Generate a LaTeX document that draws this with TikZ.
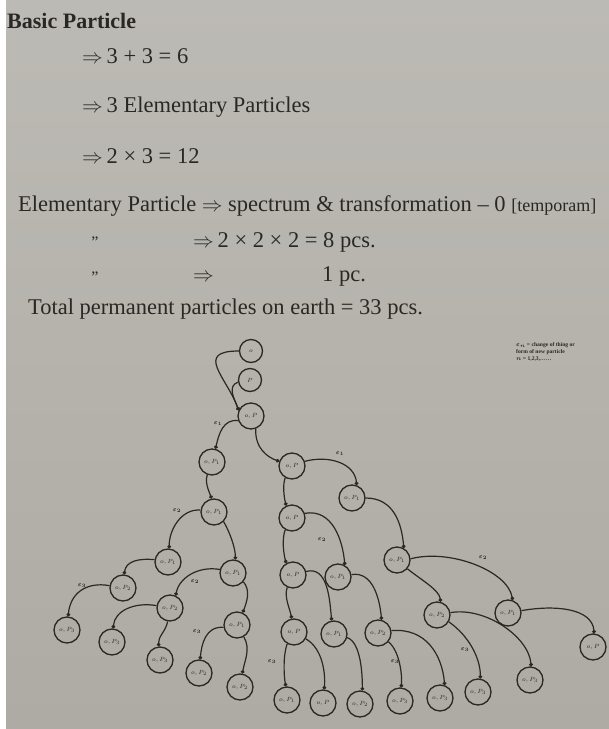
\documentclass[tikz,border=0pt]{standalone}
\usepackage{fontspec}
\setmainfont{Liberation Serif}
\usetikzlibrary{arrows.meta}
\definecolor{ink}{RGB}{42,40,37}
\definecolor{papertop}{RGB}{188,186,180}
\definecolor{paperbot}{RGB}{174,171,164}
\tikzset{
  pnode/.style={circle,draw=ink,line width=1.3pt,minimum size=26pt,inner sep=0pt,text=ink,font=\fontsize{6}{6}\selectfont},
  tnode/.style={pnode,minimum size=23pt},
  link/.style={draw=ink,line width=1.2pt,-{Circle[length=3.6pt]}},
  elabel/.style={text=ink,inner sep=0pt,font=\boldmath\fontsize{6.5}{6.5}\selectfont},
  txt/.style={text=ink,inner sep=0pt,anchor=base west,font=\fontsize{22.5}{26}\selectfont}
}
\begin{document}
\begin{tikzpicture}
\useasboundingbox (0,0) rectangle (609pt,-729pt);
\shade[top color=papertop,bottom color=paperbot] (0,0) rectangle (609pt,-729pt);
\fill[white] (0,0) rectangle (6pt,-729pt);
\begin{scope}[x=1pt,y=1pt]
% ---------- text ----------
\node[txt,font=\bfseries\fontsize{22}{26}\selectfont] (t0) at (7,-28) {Basic Particle};
\node[txt] (t1) at (82,-63) {$\Rightarrow$\,3 + 3 = 6};
\node[txt] (t2) at (82,-112) {$\Rightarrow$\,3 Elementary Particles};
\node[txt] (t3) at (82,-163) {$\Rightarrow$\,2 × 3 = 12};
\node[txt] (t4) at (18,-211) {Elementary Particle $\Rightarrow$ spectrum \& transformation – 0 {\fontsize{18}{18}\selectfont[temporam]}};
\node[text=ink,font=\fontsize{16}{16}\selectfont,inner sep=0pt] (d1) at (95,-242) {”};
\node[txt] (t5) at (193,-247) {$\Rightarrow$\,2 × 2 × 2 = 8 pcs.};
\node[text=ink,font=\fontsize{16}{16}\selectfont,inner sep=0pt] (d2) at (95,-277) {”};
\node[txt] (t6) at (193,-281) {$\Rightarrow$};
\node[txt] (t7) at (322,-281) {1 pc.};
\node[txt] (t8) at (28,-314) {Total permanent particles on earth = 33 pcs.};
\node[text=ink,inner sep=0pt,anchor=north west,align=left,font=\boldmath\bfseries\fontsize{5.6}{7}\selectfont] (leg) at (516,-342)
  {$\varepsilon_n$ = change of thing or\\ form of new particle\\ $n$ = 1,2,3,\ldots\ldots};
% ---------- nodes ----------
\node[tnode] (N1) at (251,-351) {$o$};
\node[tnode] (N2) at (250,-380) {$P$};
\node[pnode] (N3) at (251,-416) {$o,P$};
\node[pnode] (A1) at (212,-462) {$o,P_1$};
\node[pnode] (A2) at (214,-512) {$o,P_1$};
\node[pnode] (P1) at (168,-562) {$o,P_1$};
\node[pnode] (P2) at (123,-588) {$o,P_2$};
\node[pnode] (P3) at (67,-630) {$o,P_3$};
\node[pnode] (Q1) at (233,-573) {$o,P_1$};
\node[pnode] (Q2) at (170,-608) {$o,P_2$};
\node[pnode] (Q3) at (237,-625) {$o,P_1$};
\node[pnode] (Q4) at (112,-642) {$o,P_3$};
\node[pnode] (Q5) at (160,-660) {$o,P_3$};
\node[pnode] (Q6) at (199,-673) {$o,P_2$};
\node[pnode] (Q7) at (240,-687) {$o,P_2$};
\node[pnode] (B1) at (292,-466) {$o,P$};
\node[pnode] (C1) at (352,-498) {$o,P_1$};
\node[pnode] (B2) at (292,-518) {$o,P$};
\node[pnode] (C2) at (397,-560) {$o,P_1$};
\node[pnode] (D1) at (338,-577) {$o,P_1$};
\node[pnode] (B3) at (293,-575) {$o,P$};
\node[pnode] (E1) at (508,-613) {$o,P_1$};
\node[pnode] (E2) at (593,-647) {$o,P$};
\node[pnode] (F1) at (437,-615) {$o,P_2$};
\node[pnode] (B4) at (294,-632) {$o,P$};
\node[pnode] (D2) at (334,-634) {$o,P_1$};
\node[pnode] (D3) at (378,-633) {$o,P_2$};
\node[pnode] (G1) at (478,-692) {$o,P_3$};
\node[pnode] (G2) at (530,-680) {$o,P_3$};
\node[pnode] (H1) at (440,-698) {$o,P_3$};
\node[pnode] (H2) at (400,-701) {$o,P_3$};
\node[pnode] (K1) at (360,-704) {$o,P_2$};
\node[pnode] (L1) at (287,-700) {$o,P_1$};
\node[pnode] (L2) at (323,-703) {$o,P$};
% ---------- connectors ----------
\path[link] (N1.180) to[out=180,in=110,out distance=45pt,in distance=35pt] (N3.155);
\path[link] (N2.190) to[out=200,in=110,out distance=12pt,in distance=12pt] (N3.155);
\path[link] (N3.200) to[out=172,in=78,out distance=15pt,in distance=15pt] (A1.75);
\path[link] (N3.-70) to[out=-92,in=160,out distance=20pt,in distance=12pt] (B1.160);
\path[link] (A1.250) to[out=-110,in=110,out distance=8pt,in distance=8pt] (A2.100);
\path[link] (A2.172) to[out=175,in=90,out distance=19pt,in distance=19pt] (P1.85);
\path[link] (A2.-45) to[out=-60,in=90,out distance=12pt,in distance=12pt] (Q1.80);
\path[link] (P1.170) to[out=175,in=82,out distance=17pt,in distance=13pt] (P2.85);
\path[link] (P2.170) to[out=170,in=85,out distance=25pt,in distance=22pt] (P3.85);
\path[link] (Q1.165) to[out=170,in=80,out distance=22pt,in distance=18pt] (Q2.65);
\path[link] (Q1.-40) to[out=-50,in=70,out distance=12pt,in distance=10pt] (Q3.65);
\path[link] (Q2.170) to[out=170,in=85,out distance=22pt,in distance=18pt] (Q4.85);
\path[link] (Q2.-100) to[out=-100,in=95,out distance=10pt,in distance=10pt] (Q5.95);
\path[link] (Q3.190) to[out=175,in=85,out distance=18pt,in distance=15pt] (Q6.85);
\path[link] (Q3.-60) to[out=-60,in=80,out distance=14pt,in distance=14pt] (Q7.80);
\path[link] (B1.20) to[out=15,in=95,out distance=25pt,in distance=22pt] (C1.70);
\path[link] (B1.240) to[out=-110,in=105,out distance=8pt,in distance=8pt] (B2.115);
\path[link] (C1.0) to[out=0,in=95,out distance=28pt,in distance=25pt] (C2.60);
\path[link] (B2.20) to[out=10,in=95,out distance=28pt,in distance=25pt] (D1.60);
\path[link] (B2.240) to[out=-110,in=105,out distance=10pt,in distance=10pt] (B3.120);
\path[link] (B3.15) to[out=15,in=95,out distance=22pt,in distance=22pt] (D2.100);
\path[link] (B3.245) to[out=-110,in=100,out distance=10pt,in distance=10pt] (B4.100);
\path[link] (D1.10) to[out=10,in=95,out distance=22pt,in distance=20pt] (D3.75);
\path[link] (B4.240) to[out=-110,in=100,out distance=12pt,in distance=12pt] (L1.95);
\path[link] (B4.-30) to[out=-30,in=85,out distance=20pt,in distance=15pt] (L2.85);
\path[link] (D2.-15) to[out=-20,in=90,out distance=15pt,in distance=15pt] (K1.80);
\path[link] (D3.-40) to[out=-40,in=85,out distance=15pt,in distance=12pt] (H2.85);
\path[link] (D3.10) to[out=5,in=95,out distance=35pt,in distance=30pt] (H1.70);
\path[link] (C2.5) to[out=15,in=100,out distance=40pt,in distance=30pt] (E1.70);
\path[link] (C2.-40) to[out=-40,in=95,out distance=15pt,in distance=12pt] (F1.75);
\path[link] (E1.10) to[out=10,in=95,out distance=35pt,in distance=25pt] (E2.85);
\path[link] (F1.10) to[out=10,in=95,out distance=35pt,in distance=30pt] (G2.85);
\path[link] (F1.-30) to[out=-35,in=90,out distance=25pt,in distance=20pt] (G1.80);
% ---------- connector labels ----------
\node[elabel] (e1) at (218,-424) {$\varepsilon_1$};
\node[elabel] (e2) at (340,-454) {$\varepsilon_1$};
\node[elabel] (e3) at (177,-511) {$\varepsilon_2$};
\node[elabel] (e4) at (82,-586) {$\varepsilon_3$};
\node[elabel] (e5) at (195,-582) {$\varepsilon_2$};
\node[elabel] (e6) at (197,-632) {$\varepsilon_3$};
\node[elabel] (e7) at (322,-540) {$\varepsilon_2$};
\node[elabel] (e8) at (483,-558) {$\varepsilon_2$};
\node[elabel] (e9) at (272,-662) {$\varepsilon_3$};
\node[elabel] (e10) at (395,-662) {$\varepsilon_{3}$};
\node[elabel] (e11) at (465,-650) {$\varepsilon_{3}$};
\end{scope}
\end{tikzpicture}
\end{document}
